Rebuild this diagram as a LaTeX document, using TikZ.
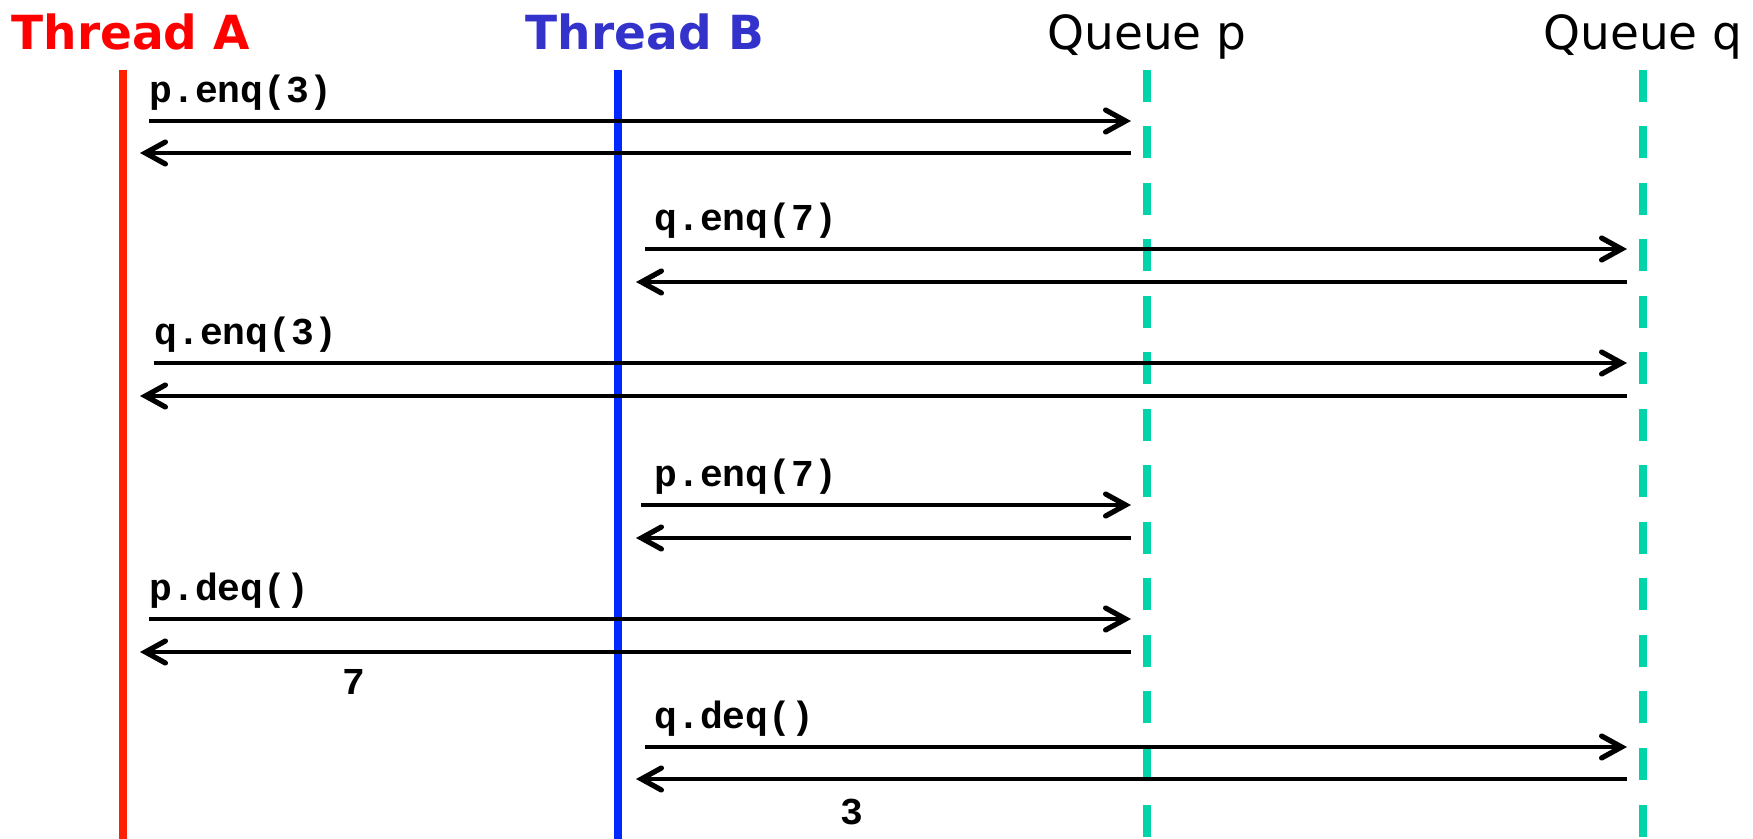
\documentclass[tikz,border=0pt]{standalone}
\usepackage{fontspec}
\setmainfont{DejaVu Sans}
\newfontfamily\codefont{Liberation Mono}
\usetikzlibrary{arrows.meta}
\definecolor{titlered}{HTML}{FF0000}
\definecolor{titleblue}{HTML}{3333CC}
\definecolor{linered}{HTML}{FF2200}
\definecolor{lineblue}{HTML}{0029FF}
\definecolor{queueteal}{HTML}{00D4A8}
\tikzstyle{head} = [anchor=base,inner sep=0pt,font=\fontsize{23.5}{28}\selectfont]
\tikzstyle{life} = [line width=4pt]
\tikzstyle{qlife} = [line width=4pt,queueteal,dash pattern=on 16pt off 12.25pt]
\tikzstyle{msg} = [line width=2.2pt,-{Straight Barb[length=10pt,width=11pt,line width=2.6pt,line cap=round]}]
\tikzstyle{lbl} = [anchor=base west,inner sep=0pt,font=\codefont\bfseries\fontsize{19}{22}\selectfont]
\tikzstyle{val} = [anchor=base,inner sep=0pt,font=\codefont\bfseries\fontsize{19}{22}\selectfont]

\begin{document}
\begin{tikzpicture}[x=0.5pt,y=-0.5pt]
    	\useasboundingbox (0,0) rectangle (1753,839);

    	% heads of the lifelines
    	\node[head,titlered,font=\bfseries\fontsize{23.5}{28}\selectfont] (threadA) at (131,50) {Thread A};
    	\node[head,titleblue,font=\bfseries\fontsize{23.5}{28}\selectfont] (threadB) at (645,50) {Thread B};
    	\node[head] (queueP) at (1147,50) {Queue p};
    	\node[head] (queueQ) at (1643,50) {Queue q};

    	% lifelines
    	\coordinate (Atop) at (123,70);
    	\coordinate (Abot) at (123,839);
    	\coordinate (Btop) at (618,70);
    	\coordinate (Bbot) at (618,839);
    	\coordinate (Ptop) at (1147,70);
    	\coordinate (Pbot) at (1147,839);
    	\coordinate (Qtop) at (1643,70);
    	\coordinate (Qbot) at (1643,839);
    	\draw[life,linered] (Atop) -- (Abot);
    	\draw[life,lineblue] (Btop) -- (Bbot);
    	\draw[qlife] (Ptop) -- (Pbot);
    	\draw[qlife] (Qtop) -- (Qbot);

    	% A: p.enq(3)
    	\coordinate (callA1) at (149,121);
    	\coordinate (atP1) at (1131,121);
    	\coordinate (fromP1) at (1131,153);
    	\coordinate (backA1) at (140,153);
    	\node[lbl] (penq3) at (149,103) {p.enq(3)};
    	\draw[msg] (callA1) -- (atP1);
    	\draw[msg] (fromP1) -- (backA1);

    	% B: q.enq(7)
    	\coordinate (callB1) at (645,249);
    	\coordinate (atQ1) at (1627,249);
    	\coordinate (fromQ1) at (1627,282);
    	\coordinate (backB1) at (636,282);
    	\node[lbl] (qenq7) at (654,231) {q.enq(7)};
    	\draw[msg] (callB1) -- (atQ1);
    	\draw[msg] (fromQ1) -- (backB1);

    	% A: q.enq(3)
    	\coordinate (callA2) at (154,363);
    	\coordinate (atQ2) at (1627,363);
    	\coordinate (fromQ2) at (1627,396);
    	\coordinate (backA2) at (140,396);
    	\node[lbl] (qenq3) at (154,345) {q.enq(3)};
    	\draw[msg] (callA2) -- (atQ2);
    	\draw[msg] (fromQ2) -- (backA2);

    	% B: p.enq(7)
    	\coordinate (callB2) at (641,505);
    	\coordinate (atP2) at (1131,505);
    	\coordinate (fromP2) at (1131,538);
    	\coordinate (backB2) at (636,538);
    	\node[lbl] (penq7) at (654,487) {p.enq(7)};
    	\draw[msg] (callB2) -- (atP2);
    	\draw[msg] (fromP2) -- (backB2);

    	% A: p.deq()
    	\coordinate (callA3) at (149,619);
    	\coordinate (atP3) at (1131,619);
    	\coordinate (fromP3) at (1131,652);
    	\coordinate (backA3) at (140,652);
    	\node[lbl] (pdeq) at (149,601) {p.deq()};
    	\node[val] (seven) at (354,695) {7};
    	\draw[msg] (callA3) -- (atP3);
    	\draw[msg] (fromP3) -- (backA3);

    	% B: q.deq()
    	\coordinate (callB3) at (645,747);
    	\coordinate (atQ3) at (1627,747);
    	\coordinate (fromQ3) at (1627,779);
    	\coordinate (backB3) at (636,779);
    	\node[lbl] (qdeq) at (654,729) {q.deq()};
    	\node[val] (three) at (852,824) {3};
    	\draw[msg] (callB3) -- (atQ3);
    	\draw[msg] (fromQ3) -- (backB3);

\end{tikzpicture}
\end{document}
